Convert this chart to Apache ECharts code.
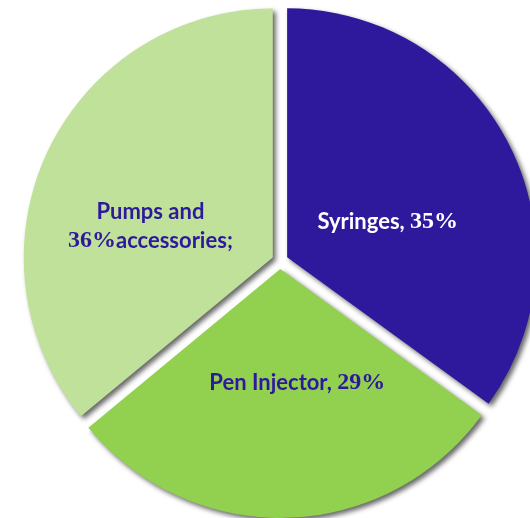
<!DOCTYPE html>
<html>
<head>
<meta charset="utf-8">
<script src="https://cdn.jsdelivr.net/npm/echarts@6/dist/echarts.min.js"></script>
<style>html,body{margin:0;padding:0;background:#fff;}#c{width:530px;height:518px;}</style>
</head>
<body>
<div id="c"></div>
<script>
var categories = ['Syringes', 'Pen Injector', 'Pumps and accessories'];
var values = [35, 29, 36];
var colors = ['#2E199C', '#92D050', '#BFE19A'];
var labelColors = ['#FFFFFF', '#2E199C', '#2E199C'];
var labelShift = [[-13, 22], [13, -14], [-7, 23]];

var chart = echarts.init(document.getElementById('c'), null, {renderer: 'canvas'});

function fmt(p) {
  if (p.dataIndex === 2) {
    return '{w|Pumps and}\n{n|' + p.value + '%}{w|accessories;}';
  }
  return '{w|' + p.name + ', }{n|' + p.value + '%}';
}

function pad(s) {
  var dx = s[0], dy = s[1];
  return [Math.max(dy, 0) * 2, Math.max(-dx, 0) * 2, Math.max(-dy, 0) * 2, Math.max(dx, 0) * 2];
}

var data = categories.map(function (c, i) {
  return {
    name: c,
    value: values[i],
    selected: true,
    itemStyle: {color: colors[i]},
    label: {
      color: labelColors[i],
      padding: pad(labelShift[i]),
      rich: {
        w: {fontFamily: 'Lato', fontWeight: 'bold', fontSize: 22, color: labelColors[i], lineHeight: 29},
        n: {fontFamily: 'Liberation Serif', fontWeight: 'bold', fontSize: 24, color: labelColors[i], lineHeight: 29}
      }
    }
  };
});

chart.setOption({
  animation: false,
  series: [{
    type: 'pie',
    center: [280, 261],
    radius: [0, 249],
    startAngle: 90,
    clockwise: true,
    selectedMode: 'multiple',
    selectedOffset: 8,
    avoidLabelOverlap: false,
    label: {show: true, position: 'inside', formatter: fmt, align: 'center'},
    labelLine: {show: false},
    itemStyle: {
      shadowBlur: 5,
      shadowColor: 'rgba(0,0,0,0.6)',
      shadowOffsetX: 3,
      shadowOffsetY: 3
    },
    emphasis: {disabled: true},
    data: data
  }]
});
</script>
</body>
</html>
